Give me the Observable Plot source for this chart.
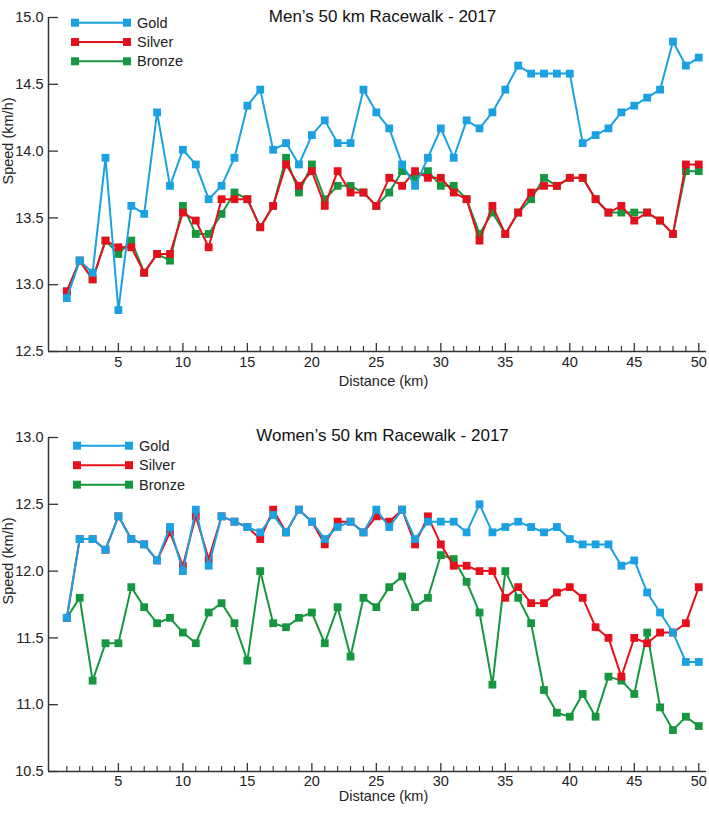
<!DOCTYPE html>
<html><head><meta charset="utf-8">
<script src="https://cdn.jsdelivr.net/npm/d3@7"></script>
<script src="https://cdn.jsdelivr.net/npm/@observablehq/plot@0.6"></script>
<style>body{margin:0;background:#fff} svg{display:block}</style>
</head><body><div id="chart"></div>
<script>
const distances = d3.range(1, 51);
const medals = ["Gold", "Silver", "Bronze"];
const medalColors = ["#1aa1e1", "#e5101c", "#15973f"];

const menGold = [12.90,13.18,13.09,13.95,12.81,13.59,13.53,14.29,13.74,14.01,13.90,13.64,13.74,13.95,14.34,14.46,14.01,14.06,13.90,14.12,14.23,14.06,14.06,14.46,14.29,14.17,13.90,13.74,13.95,14.17,13.95,14.23,14.17,14.29,14.46,14.64,14.58,14.58,14.58,14.58,14.06,14.12,14.17,14.29,14.34,14.40,14.46,14.82,14.64,14.70];
const menSilver = [12.95,13.18,13.04,13.33,13.28,13.28,13.09,13.23,13.23,13.54,13.48,13.28,13.64,13.64,13.64,13.43,13.59,13.90,13.74,13.85,13.59,13.85,13.69,13.69,13.59,13.80,13.74,13.85,13.80,13.80,13.69,13.64,13.33,13.59,13.38,13.54,13.69,13.74,13.74,13.80,13.80,13.64,13.54,13.59,13.48,13.54,13.48,13.38,13.90,13.90];
const menBronze = [12.95,13.18,13.04,13.33,13.23,13.33,13.09,13.23,13.18,13.59,13.38,13.38,13.53,13.69,13.64,13.43,13.59,13.95,13.69,13.90,13.64,13.74,13.74,13.69,13.59,13.69,13.85,13.80,13.85,13.74,13.74,13.64,13.38,13.54,13.38,13.54,13.64,13.80,13.74,13.80,13.80,13.64,13.54,13.54,13.54,13.54,13.48,13.38,13.85,13.85];

const womenGold = [11.65,12.24,12.24,12.16,12.41,12.24,12.20,12.08,12.33,12.00,12.46,12.04,12.41,12.37,12.33,12.29,12.42,12.29,12.46,12.37,12.24,12.33,12.37,12.29,12.46,12.33,12.46,12.24,12.37,12.37,12.37,12.29,12.50,12.29,12.33,12.37,12.33,12.29,12.33,12.24,12.20,12.20,12.20,12.04,12.08,11.84,11.69,11.54,11.32,11.32];
const womenSilver = [11.65,12.24,12.24,12.16,12.41,12.24,12.20,12.08,12.29,12.04,12.41,12.09,12.41,12.37,12.33,12.24,12.46,12.29,12.46,12.37,12.20,12.37,12.37,12.29,12.41,12.37,12.46,12.20,12.41,12.20,12.04,12.04,12.00,12.00,11.80,11.88,11.76,11.76,11.84,11.88,11.80,11.58,11.50,11.21,11.50,11.46,11.54,11.54,11.61,11.88];
const womenBronze = [11.65,11.80,11.18,11.46,11.46,11.88,11.73,11.61,11.65,11.54,11.46,11.69,11.76,11.61,11.33,12.00,11.61,11.58,11.65,11.69,11.46,11.73,11.36,11.80,11.73,11.88,11.96,11.73,11.80,12.12,12.09,11.92,11.69,11.15,12.00,11.80,11.61,11.11,10.94,10.91,11.08,10.91,11.21,11.18,11.08,11.54,10.98,10.81,10.91,10.84];

const menYTicks = [12.5, 13.0, 13.5, 14.0, 14.5, 15.0];
const womenYTicks = [10.5, 11.0, 11.5, 12.0, 12.5, 13.0];
const xMajorTicks = [5, 10, 15, 20, 25, 30, 35, 40, 45, 50];
const xMinorTicks = distances.filter(d => d % 5 !== 0);

const FONT = "'Liberation Sans', Arial, Helvetica, sans-serif";
const AXIS = "#333";

function makeChart(cfg) {
  const W = 709, mL = 48, mR = 3;
  const frameW = W - mL - mR;
  const frameH = cfg.height - cfg.marginTop - cfg.marginBottom;
  const values = [cfg.gold, cfg.silver, cfg.bronze];
  const rows = [];
  [2, 1, 0].forEach(i => {
    values[i].forEach((v, j) => rows.push({km: distances[j], speed: v, medal: medals[i]}));
  });
  const marks = [];
  [2, 1, 0].forEach(i => {
    const data = rows.filter(r => r.medal === medals[i]);
    marks.push(Plot.line(data, {x: "km", y: "speed", stroke: medalColors[i], strokeWidth: 2}));
    marks.push(Plot.dot(data, {x: "km", y: "speed", symbol: "square", r: 4.4, fill: medalColors[i], stroke: "none"}));
  });
  const plot = Plot.plot({
    width: W, height: cfg.height,
    marginLeft: mL, marginRight: mR, marginTop: cfg.marginTop, marginBottom: cfg.marginBottom,
    style: {fontFamily: FONT, fontSize: "14px", color: "#222", background: "#fff", overflow: "visible"},
    x: {domain: [-0.42, 50.6]},
    y: {domain: cfg.yDomain},
    marks: [
      Plot.tickY(cfg.yTicks, {y: d => d, stroke: AXIS, strokeWidth: 1.3, insetRight: frameW - 10}),
      Plot.tickX(xMajorTicks, {x: d => d, stroke: AXIS, strokeWidth: 1.3, insetTop: frameH - 8}),
      Plot.tickX(xMinorTicks, {x: d => d, stroke: AXIS, strokeWidth: 1.1, insetTop: frameH - 5}),
      Plot.ruleX([cfg.xMin], {stroke: AXIS, strokeWidth: 1.5}),
      Plot.ruleY([cfg.yDomain[0]], {stroke: AXIS, strokeWidth: 1.5}),
      Plot.axisY({ticks: cfg.yTicks, tickSize: 0, tickPadding: 5, tickFormat: d3.format(".1f"), label: null, fontSize: 14.5}),
      Plot.axisX({ticks: xMajorTicks, tickSize: 0, tickPadding: cfg.xLabelPad, label: null, fontSize: 14.5}),
      Plot.text(["Speed (km/h)"], {frameAnchor: "left", rotate: -90, dx: -40, fontSize: 14.5, fill: "#222"}),
      Plot.text(["Distance (km)"], {frameAnchor: "bottom", dx: 6, dy: cfg.xTitleDy, fontSize: 14.5, fill: "#222"}),
      Plot.text([cfg.title], {frameAnchor: "top", dx: 5, dy: cfg.titleDy, fontSize: 17, fill: "#111"}),
      ...marks
    ]
  });
  const svg = d3.select(plot);
  const g = svg.append("g").attr("font-family", FONT).attr("font-size", 14.5).attr("text-anchor", "start");
  medals.forEach((m, i) => {
    const y = cfg.marginTop + cfg.legendTop + i * cfg.legendStep;
    g.append("line").attr("x1", cfg.legendX1).attr("x2", cfg.legendX2).attr("y1", y).attr("y2", y)
      .attr("stroke", medalColors[i]).attr("stroke-width", 2);
    [cfg.legendX1, cfg.legendX2].forEach(x => {
      g.append("rect").attr("x", x - 4).attr("y", y - 4).attr("width", 8).attr("height", 8).attr("fill", medalColors[i]);
    });
    g.append("text").attr("x", cfg.legendX2 + 10).attr("y", y).attr("dy", "0.35em")
      .attr("text-anchor", "start").attr("fill", "#222").text(m);
  });
  return plot;
}

const root = document.getElementById("chart");
root.appendChild(makeChart({
  title: "Men\u2019s 50 km Racewalk - 2017",
  gold: menGold, silver: menSilver, bronze: menBronze,
  yDomain: [12.5, 15.0], yTicks: menYTicks, xMin: -0.42,
  height: 410, marginTop: 17, marginBottom: 59,
  xLabelPad: 5, xTitleDy: 34, titleDy: -8,
  legendTop: 5.7, legendStep: 19.3, legendX1: 75, legendX2: 127
}));
root.appendChild(makeChart({
  title: "Women\u2019s 50 km Racewalk - 2017",
  gold: womenGold, silver: womenSilver, bronze: womenBronze,
  yDomain: [10.5, 13.0], yTicks: womenYTicks, xMin: -0.42,
  height: 405, marginTop: 27, marginBottom: 44,
  xLabelPad: 4, xTitleDy: 29, titleDy: -9,
  legendTop: 8.7, legendStep: 19.5, legendX1: 77, legendX2: 129
}));
</script>
</body></html>
